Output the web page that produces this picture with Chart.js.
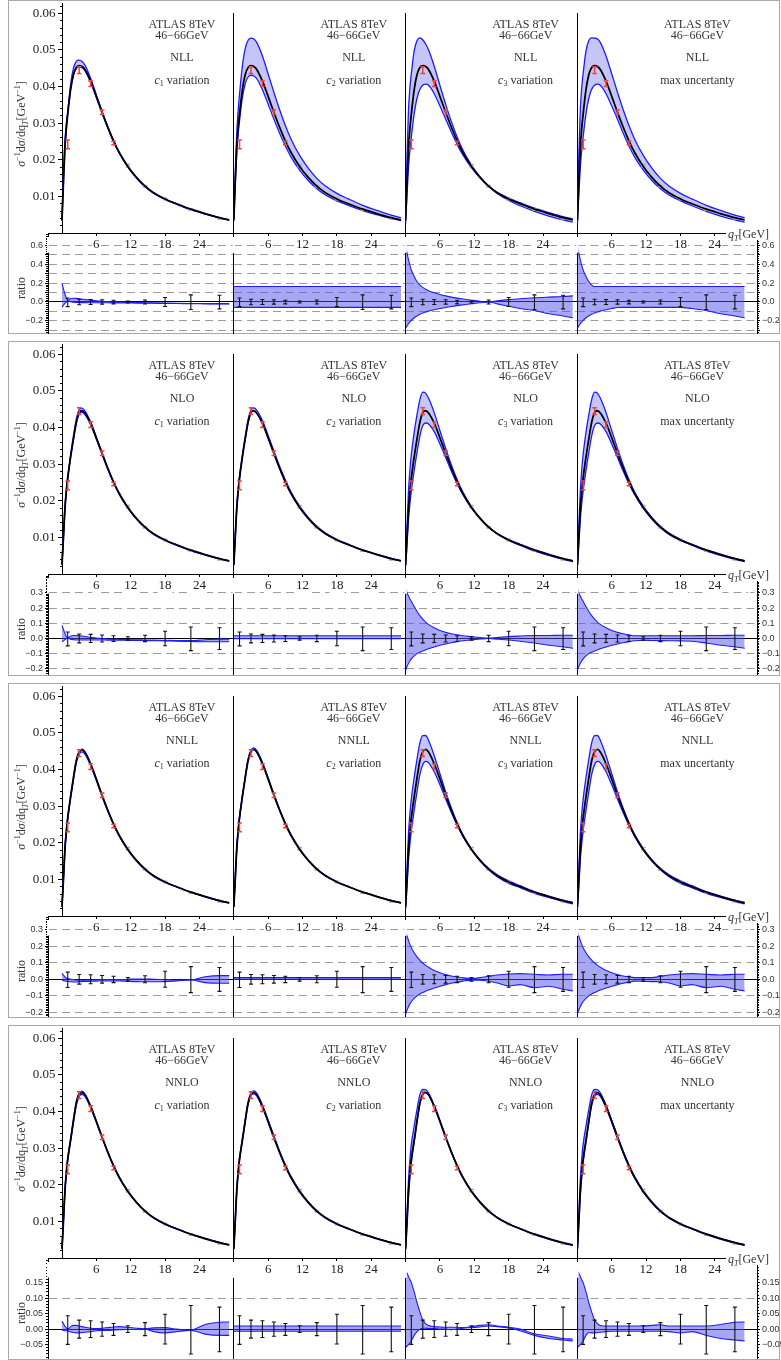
<!DOCTYPE html>
<html>
<head>
<meta charset="utf-8">
<title>ATLAS 8TeV 46-66GeV qT spectra</title>
<script src="https://cdn.jsdelivr.net/npm/chart.js@4.4.1/dist/chart.umd.min.js"></script>
<style>
  body { margin: 0; width: 781px; height: 1360px; position: relative; overflow: hidden; background: #fff;
         font-family: 'Liberation Serif', 'Times New Roman', serif; color: #333; }
  canvas { position: absolute; }
  .frame { position: absolute; left: 8px; width: 772px; border: 1.5px solid #a8a8a8; box-sizing: border-box; }
  .note { position: absolute; width: 130px; text-align: center; font-size: 12px; line-height: 12px; white-space: nowrap; z-index: 5; }
  .note sub { font-size: 8px; vertical-align: -2px; line-height: 0; }
  .vlabel { position: absolute; height: 14px; line-height: 14px; text-align: center; font-size: 12px;
            white-space: nowrap; transform: rotate(-90deg); z-index: 5; }
  .vlabel sup, .vlabel sub { font-size: 8px; line-height: 0; }
  .qt { position: absolute; left: 726px; font-size: 12px; line-height: 12px; background: #fff; padding-left: 2px; z-index: 6; }
  .qt sub { font-size: 8px; line-height: 0; }
</style>
</head>
<body>
<script>
const qtGrid = [0, 0.25, 0.5, 0.75, 1, 1.5, 2, 2.5, 3, 3.5, 4, 5, 6, 7, 8, 9, 10, 11.5, 13, 14.5, 16, 18, 20, 22.5, 25, 27.5, 29.2];
// central predictions, sigma^-1 dsigma/dqT [GeV^-1], one per order
const centralNLL  = [0.0035, 0.014, 0.023, 0.0285, 0.0325, 0.0392, 0.0433, 0.0452, 0.0457, 0.0455, 0.0447, 0.0415, 0.0373, 0.0330, 0.0289, 0.0252, 0.0220, 0.0182, 0.0152, 0.0128, 0.0110, 0.0093, 0.0080, 0.0065, 0.0053, 0.0042, 0.0036];
const centralNLO  = [0.0025, 0.010, 0.0175, 0.0225, 0.0262, 0.032, 0.037, 0.0415, 0.0441, 0.0446, 0.0440, 0.0412, 0.0372, 0.0330, 0.0289, 0.0252, 0.0220, 0.0182, 0.0152, 0.0128, 0.0110, 0.0093, 0.0080, 0.0065, 0.0053, 0.0042, 0.0036];
const centralNNLL = [0.0025, 0.010, 0.018, 0.023, 0.0268, 0.0326, 0.0378, 0.0425, 0.0449, 0.0455, 0.0448, 0.0416, 0.0374, 0.0330, 0.0289, 0.0252, 0.0220, 0.0182, 0.0152, 0.0128, 0.0110, 0.0093, 0.0080, 0.0065, 0.0053, 0.0042, 0.0036];
const centralNNLO = [0.0025, 0.010, 0.018, 0.0232, 0.027, 0.0322, 0.0375, 0.0423, 0.0447, 0.0452, 0.0446, 0.0414, 0.0373, 0.0330, 0.0289, 0.0252, 0.0220, 0.0182, 0.0152, 0.0128, 0.0110, 0.0093, 0.0080, 0.0065, 0.0053, 0.0042, 0.0036];

// ATLAS 8TeV, 46-66GeV
const qtData = [1, 3, 5, 7, 9, 11.5, 14.5, 18, 22.5, 27.5];
const xsData = [0.0242, 0.0445, 0.0408, 0.0330, 0.0246, 0.0184, 0.0128, 0.0093, 0.0064, 0.0040];
const xsErr = [0.0012, 0.0009, 0.0008, 0.0006, 0.0005, 0.0003, 0.0002, 0.0002, 0.0002, 0.0002];
const nFitted = 5; // red points, the rest are grey

// ratio panels: data points and their errors
const ratioData = [-0.003, 0.0, 0.0, 0.0, -0.001, 0.0, 0.0, 0.0, -0.002, -0.001];
const ratioErr = [0.046, 0.029, 0.027, 0.023, 0.019, 0.011, 0.021, 0.048, 0.078, 0.072];

const orders = ['NLL', 'NLO', 'NNLL', 'NNLO'];

// variation / central - 1, two edges for c1 and c3, a flat pair for c2
const nllC1a = [0.20, 0.14, 0.085, 0.045, 0.015, 0.035, 0.04, 0.038, 0.034, 0.03, 0.026, 0.019, 0.012, 0.007, 0.004, 0.001, -0.001, -0.004, -0.006, -0.008, -0.01, -0.012, -0.014, -0.016, -0.017, -0.018, -0.018];
const nllC1b = [-0.057, -0.035, -0.015, 0.0, 0.01, 0.002, -0.003, -0.005, -0.006, -0.007, -0.007, -0.008, -0.008, -0.009, -0.009, -0.01, -0.01, -0.011, -0.012, -0.013, -0.014, -0.016, -0.017, -0.019, -0.02, -0.021, -0.021];
const nllC2 = [0.165, -0.057];
const nllC3a = [0.60, 0.52, 0.45, 0.39, 0.34, 0.27, 0.215, 0.18, 0.155, 0.135, 0.12, 0.098, 0.08, 0.065, 0.052, 0.041, 0.031, 0.019, 0.008, 0.0, 0.012, 0.025, 0.035, 0.045, 0.052, 0.058, 0.065];
const nllC3b = [-0.28, -0.255, -0.232, -0.212, -0.195, -0.168, -0.148, -0.131, -0.117, -0.106, -0.097, -0.083, -0.07, -0.058, -0.048, -0.039, -0.031, -0.019, -0.008, 0.0, -0.02, -0.045, -0.07, -0.09, -0.125, -0.15, -0.17];

const nloC1a = [0.086, 0.06, 0.035, 0.015, 0.004, 0.015, 0.02, 0.02, 0.018, 0.016, 0.013, 0.008, 0.003, 0.0, -0.003, -0.005, -0.006, -0.008, -0.009, -0.01, -0.011, -0.012, -0.013, -0.014, -0.008, -0.004, -0.004];
const nloC1b = [-0.022, -0.015, -0.008, -0.002, 0.002, -0.005, -0.008, -0.01, -0.01, -0.01, -0.01, -0.01, -0.01, -0.01, -0.011, -0.011, -0.011, -0.012, -0.013, -0.014, -0.015, -0.016, -0.018, -0.02, -0.022, -0.022, -0.022];
const nloC2 = [0.018, -0.002];
const nloC3a = [0.33, 0.30, 0.28, 0.26, 0.245, 0.21, 0.178, 0.15, 0.127, 0.108, 0.093, 0.07, 0.052, 0.04, 0.031, 0.024, 0.018, 0.012, 0.006, 0.002, 0.006, 0.012, 0.016, 0.02, 0.02, 0.021, 0.021];
const nloC3b = [-0.21, -0.185, -0.165, -0.148, -0.135, -0.115, -0.1, -0.09, -0.082, -0.075, -0.068, -0.056, -0.045, -0.036, -0.028, -0.021, -0.015, -0.009, -0.004, 0.0, -0.004, -0.01, -0.018, -0.03, -0.045, -0.055, -0.065];

const nnllC1a = [0.035, 0.025, 0.015, 0.008, 0.004, 0.0, -0.002, -0.004, -0.005, -0.005, -0.005, -0.004, -0.003, -0.002, -0.002, -0.002, -0.002, 0.0, 0.002, 0.002, 0.0, -0.002, -0.004, -0.003, 0.015, 0.022, 0.022];
const nnllC1b = [-0.005, -0.008, -0.01, -0.012, -0.013, -0.015, -0.016, -0.016, -0.015, -0.014, -0.013, -0.012, -0.011, -0.01, -0.01, -0.01, -0.01, -0.012, -0.014, -0.015, -0.015, -0.014, -0.01, -0.004, -0.02, -0.024, -0.024];
const nnllC2 = [0.01, 0.0];
const nnllC3a = [0.29, 0.26, 0.235, 0.21, 0.19, 0.16, 0.135, 0.115, 0.098, 0.084, 0.072, 0.053, 0.039, 0.028, 0.02, 0.014, 0.009, 0.005, 0.01, 0.018, 0.026, 0.032, 0.034, 0.03, 0.026, 0.03, 0.03];
const nnllC3b = [-0.21, -0.185, -0.165, -0.148, -0.135, -0.115, -0.1, -0.089, -0.08, -0.072, -0.065, -0.053, -0.042, -0.032, -0.024, -0.017, -0.011, -0.005, -0.006, -0.012, -0.022, -0.04, -0.032, -0.05, -0.042, -0.06, -0.07];

const nnloC1a = [0.025, 0.018, 0.01, 0.004, 0.0, 0.008, 0.012, 0.012, 0.01, 0.008, 0.006, 0.003, 0.002, 0.003, 0.005, 0.007, 0.008, 0.006, 0.003, 0.001, 0.004, 0.005, 0.0, -0.003, 0.015, 0.022, 0.023];
const nnloC1b = [-0.002, -0.004, -0.005, -0.005, -0.006, -0.009, -0.011, -0.012, -0.012, -0.011, -0.01, -0.008, -0.005, -0.004, -0.004, -0.003, -0.002, -0.001, -0.001, 0.0, -0.008, -0.012, -0.008, -0.004, -0.016, -0.02, -0.02];
const nnloC2 = [0.01, -0.007];
const nnloC3a = [0.188, 0.18, 0.17, 0.16, 0.15, 0.12, 0.085, 0.055, 0.03, 0.018, 0.012, 0.008, 0.007, 0.006, 0.006, 0.006, 0.005, 0.008, 0.012, 0.014, 0.01, 0.006, 0.0, -0.015, -0.022, -0.03, -0.032];
const nnloC3b = [-0.059, -0.055, -0.05, -0.045, -0.038, -0.02, -0.008, 0.0, 0.003, 0.003, 0.002, 0.002, 0.0, 0.0, -0.002, 0.0, 0.003, 0.005, 0.007, 0.01, 0.008, 0.004, -0.005, -0.02, -0.03, -0.035, -0.038];

// ratio axes, one per row
const ratioMin = [-0.33, -0.234, -0.221, -0.093];
const ratioMax = [0.723, 0.418, 0.375, 0.226];
const ratioStep = [0.1, 0.1, 0.1, 0.05];
const ratioMinorStep = [0.02, 0.01, 0.01, 0.01];
const ratioLabelEvery = [2, 1, 1, 1];
const ratioTopTick = [0.6, 0.3, 0.3, 0.15];
const ratioDecimals = [1, 1, 1, 2];

const centralSets = [centralNLL, centralNLO, centralNNLL, centralNNLO];
const bandSets = [
  [nllC1a, nllC1b, nllC2, nllC3a, nllC3b],
  [nloC1a, nloC1b, nloC2, nloC3a, nloC3b],
  [nnllC1a, nnllC1b, nnllC2, nnllC3a, nnllC3b],
  [nnloC1a, nnloC1b, nnloC2, nnloC3a, nnloC3b]
];

// layout
const BLOCK_TOP = [0, 341, 683, 1025];
const BLOCK_H = [334, 335, 335, 335];
const PANEL_X0 = [62, 233.8, 405.6, 577.4];
const PANEL_W = 171.8;           // 30 GeV
const PX_QT = PANEL_W / 30;
const PX_XS = 3660;
const AXIS_Y = 233;

const BLUE = '#1c1cff';
const RED = '#e8453c';
const GREY = '#a9a9a9';
const MAIN_FILL = 'rgba(80,80,235,0.33)';
const RATIO_FILL = 'rgba(80,80,235,0.5)';
const SERIF = "'Liberation Serif', 'Times New Roman', serif";
const SANS = "'Liberation Sans', Arial, sans-serif";

Chart.defaults.animation = false;
Chart.defaults.responsive = false;
Chart.defaults.devicePixelRatio = 1;
Chart.defaults.events = [];
Chart.defaults.plugins.legend.display = false;
Chart.defaults.plugins.tooltip.enabled = false;
Chart.defaults.elements.point.radius = 0;

// axis boxes get a fixed size so the plot area lands where the picture has it
const fitTo = size => s => {
  if (s.isHorizontal()) s.height = size; else s.width = size;
  s.paddingTop = s.paddingBottom = s.paddingLeft = s.paddingRight = 0;
};

// an axis that only draws short minor tick marks
function minorAxis(position, min, max, step, weight) {
  return {type: 'linear', position, weight, min, max, afterFit: fitTo(0),
    ticks: {display: false, stepSize: step, includeBounds: false, autoSkip: false},
    grid: {drawOnChartArea: false, tickLength: 2, tickColor: '#000', lineWidth: 1},
    border: {display: false}};
}

function makeCanvas(left, top, w, h, z) {
  const c = document.createElement('canvas');
  c.width = w; c.height = h;
  c.style.left = left + 'px'; c.style.top = top + 'px';
  c.style.width = w + 'px'; c.style.height = h + 'px';
  c.style.zIndex = z;
  document.body.appendChild(c);
  return c;
}

function addDiv(cls, left, top, html, width) {
  const d = document.createElement('div');
  d.className = cls;
  d.style.left = left + 'px';
  d.style.top = top + 'px';
  if (width) d.style.width = width + 'px';
  d.innerHTML = html;
  document.body.appendChild(d);
}

const pts = (xs, ys) => xs.map((x, k) => ({x, y: ys[k]}));

function errBars(xs, ys, es, cap) {
  const out = [];
  xs.forEach((x, k) => {
    const lo = ys[k] - es[k], hi = ys[k] + es[k];
    out.push({x, y: lo}, {x, y: hi}, {x, y: null},
             {x: x - cap, y: lo}, {x: x + cap, y: lo}, {x, y: null},
             {x: x - cap, y: hi}, {x: x + cap, y: hi}, {x, y: null});
  });
  return out;
}

function curve(data, color, width, extra) {
  return Object.assign({data, borderColor: color, borderWidth: width, pointRadius: 0,
    cubicInterpolationMode: 'monotone', fill: false}, extra || {});
}

function edges(b, p) {
  const [c1a, c1b, c2, c3a, c3b] = bandSets[b];
  const c2a = qtGrid.map(() => c2[0]), c2b = qtGrid.map(() => c2[1]);
  if (p === 0) return [c1a, c1b];
  if (p === 1) return [c2a, c2b];
  if (p === 2) return [c3a, c3b];
  const all = [c1a, c1b, c2a, c2b, c3a, c3b];
  return [qtGrid.map((_, k) => Math.max(...all.map(s => s[k]))),
          qtGrid.map((_, k) => Math.min(...all.map(s => s[k])))];
}

function mainChart(b, p) {
  const top = BLOCK_TOP[b], x0 = PANEL_X0[p];
  const areaL = p === 0 ? 48 : x0, areaR = x0 + PANEL_W;
  const areaT = top + (p === 0 ? 3 : 13), areaB = top + AXIS_Y;
  const cl = p === 0 ? 0 : Math.floor(x0) - 10;
  const cw = Math.ceil(areaR + 12 - cl), ch = 262;
  const cv = makeCanvas(cl, top, cw, ch, 3);
  const central = centralSets[b];
  const [ea, eb] = edges(b, p);
  const upper = central.map((c, k) => c * (1 + ea[k]));
  const lower = central.map((c, k) => c * (1 + eb[k]));
  const errLine = {borderWidth: 1.5, pointRadius: 0, tension: 0, fill: false};
  const ymax = (areaB - areaT) / PX_XS;

  const scales = {
    x: {
      type: 'linear', min: (areaL - x0) / PX_QT, max: 30, afterFit: fitTo(top + ch - areaB),
      ticks: {stepSize: 6, autoSkip: false, maxRotation: 0, padding: 1, color: '#222',
        font: {family: SERIF, size: 13},
        callback: v => (v > 0 && v < 30) ? String(v) : '',
        showLabelBackdrop: true, backdropColor: '#fff', backdropPadding: {x: 1, y: 0}},
      grid: {drawOnChartArea: false, tickLength: 3, tickColor: '#000'},
      border: {color: '#000', width: 1}
    },
    y: {
      type: 'linear', position: p === 0 ? {x: 0} : 'left',
      min: 0, max: ymax, afterFit: fitTo(0),
      ticks: p === 0
        ? {stepSize: 0.01, color: '#222', font: {family: SERIF, size: 13}, includeBounds: false,
           callback: v => v > 0.001 ? v.toFixed(2) + '  ' : ''}
        : {display: false},
      grid: {drawOnChartArea: false, drawTicks: p === 0, tickLength: 4, tickColor: '#000'},
      border: {color: '#000', width: 1}
    }
  };
  if (p === 0) scales.ym = minorAxis({x: 0}, 0, ymax, 0.002, 0);

  new Chart(cv, {
    type: 'line',
    data: {
      datasets: [
        Object.assign({data: errBars(qtData.slice(0, nFitted), xsData.slice(0, nFitted), xsErr.slice(0, nFitted), 0.4), borderColor: RED}, errLine),
        curve(pts(qtGrid, central), '#000', 1.8),
        Object.assign({data: errBars(qtData.slice(nFitted), xsData.slice(nFitted), xsErr.slice(nFitted), 0.4), borderColor: GREY}, errLine),
        curve(pts(qtGrid, upper), BLUE, 1.3),
        curve(pts(qtGrid, lower), BLUE, 1.3, {fill: '-1', backgroundColor: MAIN_FILL})
      ]
    },
    options: {
      layout: {padding: {left: areaL - cl, right: cl + cw - areaR, top: areaT - top, bottom: 0}},
      scales
    }
  });
}

function ratioChart(b, p) {
  const top = BLOCK_TOP[b], x0 = PANEL_X0[p];
  const areaL = p === 0 ? 48 : x0;
  const areaR = p === 3 ? 757 : x0 + PANEL_W;
  const areaT = top + 234, areaB = top + 333;
  const cl = p === 0 ? 0 : Math.floor(x0) - 10;
  const ct = top + 226;
  const cw = Math.ceil(areaR + 26 - cl), ch = 112;
  const cv = makeCanvas(cl, ct, cw, ch, 1);
  const [ea, eb] = edges(b, p);
  const labelled = p === 0 || p === 3;
  const step = ratioStep[b];
  const idx = v => Math.round(v / step);
  const isZero = v => Math.abs(v) < 1e-9;
  const shown = v => v <= ratioTopTick[b] + 1e-9;
  const dashed = v => shown(v) && !isZero(v) && Math.abs(Math.round(v * 100)) % 10 === 0;
  const fmt = v => (v < -1e-9 ? '\u2212' : '') + Math.abs(v).toFixed(ratioDecimals[b]);

  const leftSpace = areaL - cl, rightSpace = cl + cw - areaR;
  const scales = {
    x: {type: 'linear', display: false, min: (areaL - x0) / PX_QT, max: (areaR - x0) / PX_QT},
    y: {
      type: 'linear', position: p === 3 ? 'right' : 'left', weight: 1,
      min: ratioMin[b], max: ratioMax[b],
      afterFit: fitTo(p === 0 ? leftSpace : p === 3 ? rightSpace : 0),
      ticks: {display: labelled, stepSize: step, includeBounds: false, autoSkip: false, padding: 2,
        color: '#333', font: {family: SANS, size: 9},
        callback: v => (shown(v) && idx(v) % ratioLabelEvery[b] === 0) ? fmt(v) : ''},
      grid: {
        drawTicks: labelled, tickLength: 3, lineWidth: 1,
        color: ctx => !ctx.tick ? '#000' : isZero(ctx.tick.value) ? '#000' : dashed(ctx.tick.value) ? '#9c9c9c' : 'rgba(0,0,0,0)',
        tickColor: ctx => (ctx.tick && shown(ctx.tick.value)) ? '#000' : 'rgba(0,0,0,0)'
      },
      border: {color: '#000', width: 1, dash: ctx => (ctx.tick && !isZero(ctx.tick.value)) ? [8, 5] : []}
    }
  };
  if (p === 0) scales.ym = minorAxis('left', ratioMin[b], ratioMax[b], ratioMinorStep[b], 0);
  if (p === 3) {
    scales.ym = minorAxis('right', ratioMin[b], ratioMax[b], ratioMinorStep[b], 0);
    scales.yl = {type: 'linear', position: 'left', min: ratioMin[b], max: ratioMax[b], afterFit: fitTo(0),
      ticks: {display: false}, grid: {display: false, drawTicks: false}, border: {color: '#000', width: 1}};
  }

  new Chart(cv, {
    type: 'line',
    data: {
      datasets: [
        {data: errBars(qtData, ratioData, ratioErr, 0.35), borderColor: '#111', borderWidth: 1.1, pointRadius: 0, tension: 0, fill: false},
        curve(pts(qtGrid, ea), BLUE, 1.1),
        curve(pts(qtGrid, eb), BLUE, 1.1, {fill: '-1', backgroundColor: RATIO_FILL})
      ]
    },
    options: {
      layout: {padding: {
        left: p === 0 ? 0 : leftSpace,
        right: p === 3 ? 0 : rightSpace,
        top: areaT - ct, bottom: ct + ch - areaB}},
      scales
    }
  });
}

const variationHtml = ['<i>c</i><sub>1</sub> variation', '<i>c</i><sub>2</sub> variation',
                       '<i>c</i><sub>3</sub> variation', 'max uncertanty'];

orders.forEach((order, b) => {
  const top = BLOCK_TOP[b];
  const f = document.createElement('div');
  f.className = 'frame';
  f.style.top = top + 'px';
  f.style.height = BLOCK_H[b] + 'px';
  document.body.appendChild(f);

  for (let p = 0; p < 4; p++) {
    ratioChart(b, p);
    mainChart(b, p);
    const left = PANEL_X0[p] + 120 - 65;
    addDiv('note', left, top + 18, 'ATLAS 8TeV');
    addDiv('note', left, top + 28.5, '46\u221266GeV');
    addDiv('note', left, top + 51, order);
    addDiv('note', left, top + 74, variationHtml[p]);
  }
  addDiv('vlabel', 21 - 80, top + 124 - 7, '<i>\u03c3</i><sup>\u22121</sup>d<i>\u03c3</i>/dq<sub><i>T</i></sub>[GeV<sup>\u22121</sup>]', 160);
  addDiv('vlabel', 21 - 30, top + 288 - 7, 'ratio', 60);
  addDiv('qt', 726, top + 228, '<i>q</i><sub><i>T</i></sub>[GeV]');
});
</script>
</body>
</html>
